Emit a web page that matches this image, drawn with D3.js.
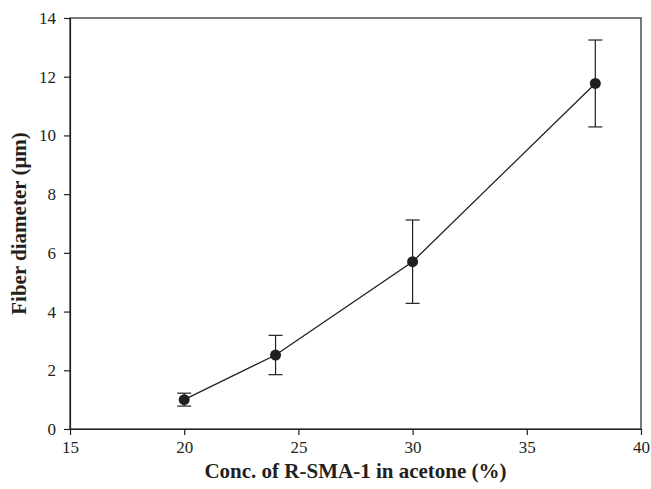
<!DOCTYPE html>
<html>
<head>
<meta charset="utf-8">
<script src="https://cdn.jsdelivr.net/npm/d3@7"></script>
<style>
  body { margin: 0; background: #fff; }
  svg { display: block; font-family: "Liberation Serif", "Times New Roman", serif; }
</style>
</head>
<body>
<div id="chart"></div>
<script>
const concentrations = [20, 24, 30, 38];
const diameters = [1.0, 2.52, 5.7, 11.77];
const errors = [0.22, 0.67, 1.42, 1.48];
const xTicks = [15, 20, 25, 30, 35, 40];
const yTicks = [0, 2, 4, 6, 8, 10, 12, 14];

const width = 651,
  height = 489,
  margin = ({ top: 18, right: 10, bottom: 60, left: 70 });

const data = concentrations.map((c, i) => ({ x: c, y: diameters[i], e: errors[i] }));

const x = d3.scaleLinear()
  .domain([15, 40])
  .range([margin.left, width - margin.right]);

const y = d3.scaleLinear()
  .domain([0, 14])
  .range([height - margin.bottom, margin.top]);

const svg = d3.select("#chart")
  .append("svg")
  .attr("width", width)
  .attr("height", height)
  .attr("viewBox", [0, 0, width, height]);

const ink = "#231f20";

// frame
svg.append("rect")
  .attr("x", margin.left)
  .attr("y", margin.top)
  .attr("width", width - margin.right - margin.left)
  .attr("height", height - margin.bottom - margin.top)
  .attr("fill", "none")
  .attr("stroke", ink)
  .attr("stroke-width", 1.2);

const xAxis = svg.append("g")
  .attr("transform", `translate(0,${height - margin.bottom})`)
  .call(d3.axisBottom(x).tickValues(xTicks).tickSize(6).tickPadding(6).tickSizeOuter(0));

const yAxis = svg.append("g")
  .attr("transform", `translate(${margin.left},0)`)
  .call(d3.axisLeft(y).tickValues(yTicks).tickSize(6).tickPadding(8).tickSizeOuter(0));

[xAxis, yAxis].forEach(a => {
  a.attr("font-family", "Liberation Serif, serif").attr("font-size", 17);
  a.select(".domain").attr("stroke", ink).attr("stroke-width", 1.2);
  a.selectAll(".tick line").attr("stroke", ink).attr("stroke-width", 1.2);
  a.selectAll(".tick text").attr("fill", ink);
});

// connecting line
svg.append("path")
  .datum(data)
  .attr("fill", "none")
  .attr("stroke", ink)
  .attr("stroke-width", 1.3)
  .attr("d", d3.line().x(d => x(d.x)).y(d => y(d.y)));

// error bars
const eb = svg.append("g")
  .attr("stroke", ink)
  .attr("stroke-width", 1.2)
  .selectAll("g")
  .data(data)
  .join("g");

eb.append("line")
  .attr("x1", d => x(d.x))
  .attr("x2", d => x(d.x))
  .attr("y1", d => y(d.y + d.e))
  .attr("y2", d => y(d.y - d.e));

eb.append("line")
  .attr("x1", d => x(d.x) - 7)
  .attr("x2", d => x(d.x) + 7)
  .attr("y1", d => y(d.y + d.e))
  .attr("y2", d => y(d.y + d.e));

eb.append("line")
  .attr("x1", d => x(d.x) - 7)
  .attr("x2", d => x(d.x) + 7)
  .attr("y1", d => y(d.y - d.e))
  .attr("y2", d => y(d.y - d.e));

// markers
svg.append("g")
  .selectAll("circle")
  .data(data)
  .join("circle")
  .attr("cx", d => x(d.x))
  .attr("cy", d => y(d.y))
  .attr("r", 5.5)
  .attr("fill", ink);

// axis titles
svg.append("text")
  .attr("x", (margin.left + width - margin.right) / 2)
  .attr("y", 478)
  .attr("text-anchor", "middle")
  .attr("font-weight", "bold")
  .attr("font-size", 21)
  .attr("fill", ink)
  .text("Conc. of R-SMA-1 in acetone (%)");

svg.append("text")
  .attr("transform", `translate(26,${(margin.top + height - margin.bottom) / 2}) rotate(-90)`)
  .attr("text-anchor", "middle")
  .attr("font-weight", "bold")
  .attr("font-size", 21)
  .attr("fill", ink)
  .text("Fiber diameter (μm)");
</script>
</body>
</html>
